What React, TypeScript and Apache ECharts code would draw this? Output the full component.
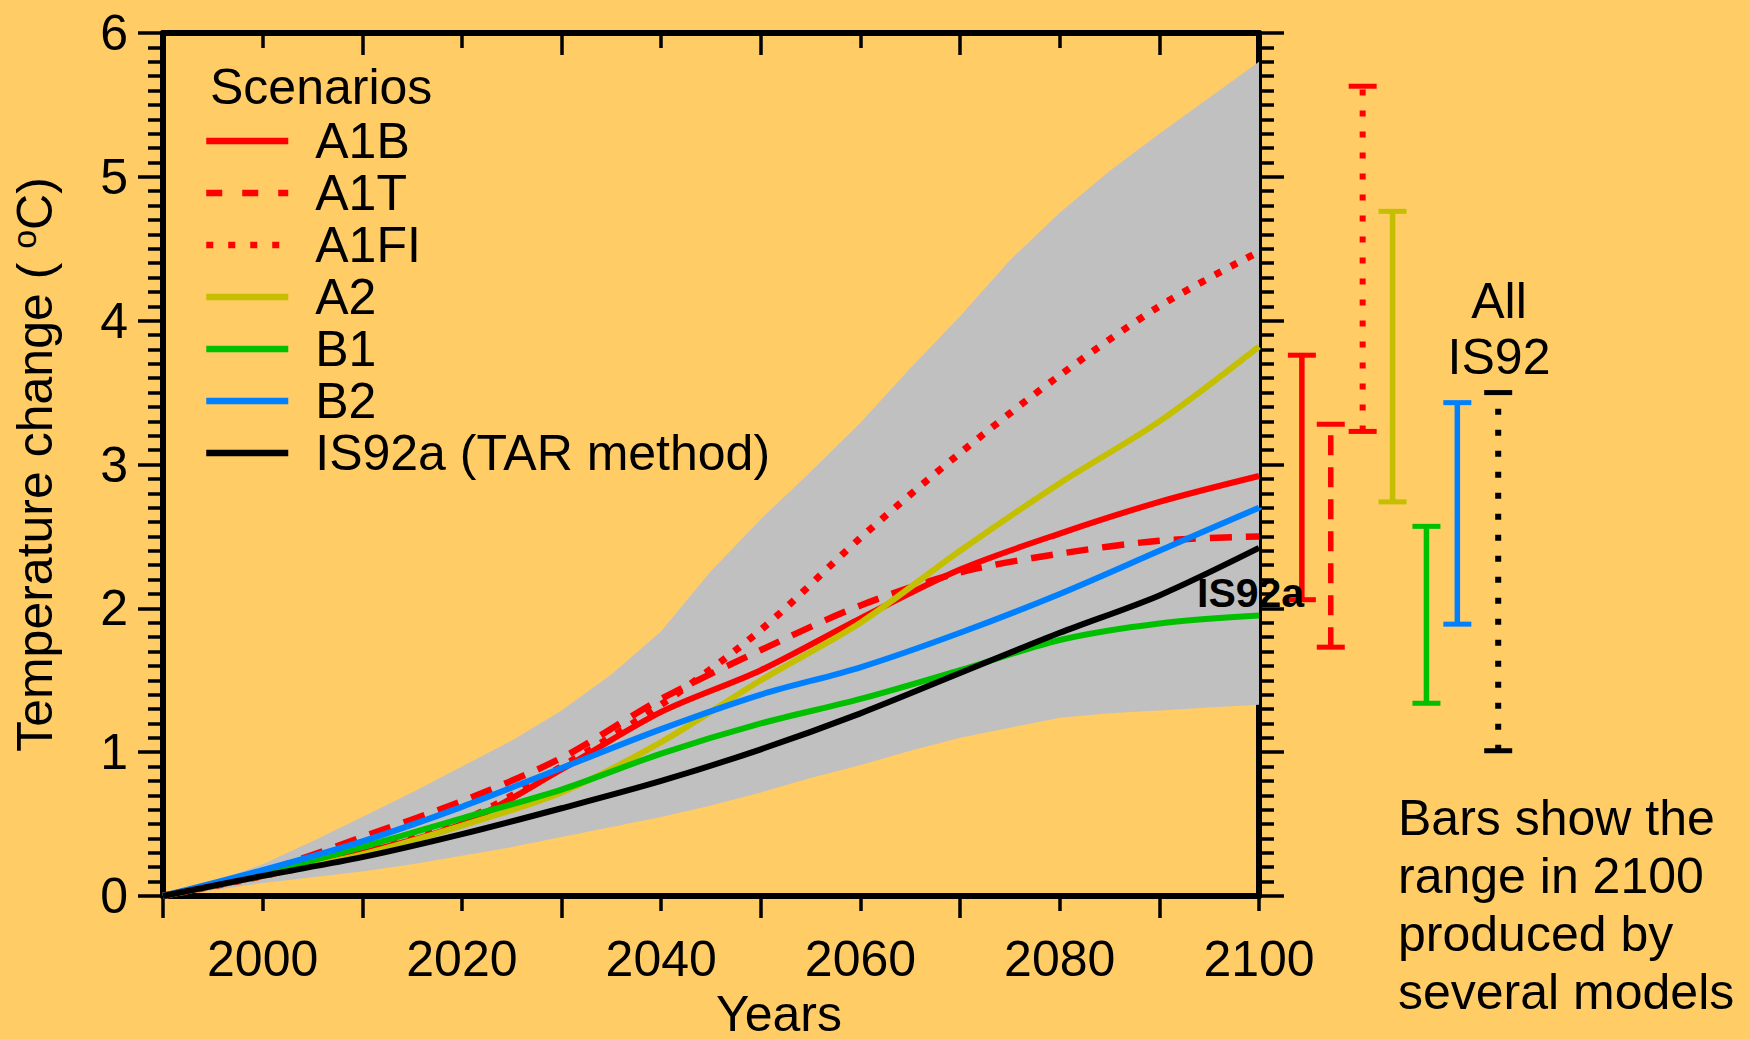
import React, { useEffect, useRef } from 'react';
import * as echarts from 'echarts';

const FONT = '"Liberation Sans", Arial, Helvetica, sans-serif';
const BG = '#ffcc66';

// ---- data ----
const years = [1990, 2000, 2010, 2020, 2030, 2040, 2050, 2060, 2070, 2080, 2090, 2100];
const A1B = [0, 0.14, 0.3, 0.5, 0.88, 1.28, 1.57, 1.93, 2.27, 2.52, 2.74, 2.92];
const A1T = [0, 0.17, 0.41, 0.66, 0.96, 1.37, 1.71, 2.02, 2.25, 2.38, 2.47, 2.5];
const A1FI = [0, 0.14, 0.3, 0.52, 0.9, 1.33, 1.85, 2.49, 3.08, 3.62, 4.1, 4.48];
const A2 = [0, 0.14, 0.29, 0.49, 0.72, 1.07, 1.5, 1.9, 2.4, 2.87, 3.3, 3.82];
const B1 = [0, 0.16, 0.34, 0.54, 0.74, 0.99, 1.2, 1.37, 1.57, 1.78, 1.895, 1.95];
const B2 = [0, 0.18, 0.38, 0.62, 0.89, 1.16, 1.4, 1.59, 1.83, 2.1, 2.4, 2.7];
const IS92a = [0, 0.14, 0.27, 0.43, 0.61, 0.8, 1.02, 1.27, 1.55, 1.83, 2.09, 2.42];

const envYears = [1990, 1995, 2000, 2005, 2010, 2015, 2020, 2025, 2030, 2035, 2040, 2045, 2050, 2055, 2060, 2065, 2070, 2075, 2080, 2085, 2090, 2095, 2100];
const envUpper = [0, 0.1, 0.22, 0.38, 0.55, 0.72, 0.9, 1.08, 1.29, 1.54, 1.84, 2.26, 2.62, 2.95, 3.29, 3.67, 4.03, 4.42, 4.75, 5.04, 5.3, 5.55, 5.8];
const envLower = [0, 0.04, 0.09, 0.13, 0.17, 0.22, 0.28, 0.34, 0.41, 0.48, 0.55, 0.63, 0.72, 0.82, 0.91, 1.01, 1.1, 1.17, 1.24, 1.27, 1.29, 1.31, 1.33];

// range bars for 2100 (placed to the right of the plot, in "year" units of a side axis)
const barNames = ['A1B', 'A1T', 'A1FI', 'A2', 'B1', 'B2', 'All IS92'];
const barPos = [2104.3, 2107.2, 2110.4, 2113.4, 2116.8, 2119.9, 2124.0];
const barLow = [2.06, 1.73, 3.23, 2.74, 1.34, 1.89, 1.01];
const barHigh = [3.76, 3.28, 5.63, 4.76, 2.57, 3.43, 3.5];

const xLabelValues = [2000, 2020, 2040, 2060, 2080, 2100];
const xEvenTicks = [2000, 2020, 2040, 2060, 2080, 2100];
const xOddTicks = [1990, 2010, 2030, 2050, 2070, 2090];
const xTopEven = [2000, 2020, 2040, 2060, 2080];

const RED = '#ff0000';
const OLIVE = '#c4bf00';
const GREEN = '#00c000';
const BLUE = '#0080ff';
const BLACK = '#000000';

const scenarios = [
  { name: 'A1B', values: A1B, color: RED, type: 'solid' as any, legendType: 'solid' as any, width: 6 },
  { name: 'A1T', values: A1T, color: RED, type: [22, 14] as any, legendType: [16, 20] as any, width: 6.5 },
  { name: 'A1FI', values: A1FI, color: RED, type: [7, 11] as any, legendType: [7, 15] as any, width: 7 },
  { name: 'A2', values: A2, color: OLIVE, type: 'solid' as any, legendType: 'solid' as any, width: 6 },
  { name: 'B1', values: B1, color: GREEN, type: 'solid' as any, legendType: 'solid' as any, width: 6 },
  { name: 'B2', values: B2, color: BLUE, type: 'solid' as any, legendType: 'solid' as any, width: 6 },
  { name: 'IS92a (TAR method)', values: IS92a, color: BLACK, type: 'solid' as any, legendType: 'solid' as any, width: 6 },
];

const barStyles = [
  { color: RED, dash: null as any, width: 5.5 },
  { color: RED, dash: [20, 12], width: 5.5 },
  { color: RED, dash: [6, 15], width: 6 },
  { color: OLIVE, dash: null as any, width: 5.5 },
  { color: GREEN, dash: null as any, width: 5.5 },
  { color: BLUE, dash: null as any, width: 5.5 },
  { color: BLACK, dash: [6, 15], width: 6 },
];

function buildOption(): any {
  const axisLineStyle = { color: BLACK, width: 6 };
  const tickLine = { color: BLACK, width: 3.5 };
  const gridTop = 33;
  const gridH = 863;

  const series: any[] = [
    {
      name: 'envelope',
      type: 'custom',
      xAxisIndex: 0,
      yAxisIndex: 0,
      data: envYears.map((y, i) => [y, envLower[i], envUpper[i]]),
      encode: { x: 0, y: [1, 2] },
      silent: true,
      z: 1,
      renderItem: (params: any, api: any) => {
        if (params.dataIndex !== 0) return null;
        const pts: number[][] = [];
        for (let k = 0; k < envYears.length; k++) pts.push(api.coord([envYears[k], envUpper[k]]));
        for (let k = envYears.length - 1; k >= 0; k--) pts.push(api.coord([envYears[k], envLower[k]]));
        return { type: 'polygon', shape: { points: pts }, style: { fill: '#c0c0c0', stroke: 'none' } };
      },
    },
  ];

  scenarios.forEach((s) => {
    series.push({
      name: s.name,
      type: 'line',
      xAxisIndex: 0,
      yAxisIndex: 0,
      data: years.map((y, i) => [y, s.values[i]]),
      symbol: 'none',
      showSymbol: false,
      smooth: 0.3,
      color: s.color,
      lineStyle: { color: s.color, width: s.width, type: s.type, cap: 'butt' },
      z: 3,
    });
  });

  series.push({
    name: 'ranges',
    type: 'custom',
    xAxisIndex: 4,
    yAxisIndex: 2,
    data: barNames.map((n, i) => [barPos[i], barLow[i], barHigh[i]]),
    encode: { x: 0, y: [1, 2] },
    clip: false,
    renderItem: (params: any, api: any) => {
      const i = params.dataIndex;
      const st = barStyles[i];
      const x = api.value(0);
      const lo = api.coord([x, api.value(1)]);
      const hi = api.coord([x, api.value(2)]);
      const half = 14;
      return {
        type: 'group',
        children: [
          {
            type: 'line',
            shape: { x1: lo[0], y1: lo[1], x2: hi[0], y2: hi[1] },
            style: { stroke: st.color, lineWidth: st.width, lineDash: st.dash, lineCap: 'butt' },
          },
          {
            type: 'line',
            shape: { x1: hi[0] - half, y1: hi[1], x2: hi[0] + half, y2: hi[1] },
            style: { stroke: st.color, lineWidth: 5 },
          },
          {
            type: 'line',
            shape: { x1: lo[0] - half, y1: lo[1], x2: lo[0] + half, y2: lo[1] },
            style: { stroke: st.color, lineWidth: 5 },
          },
        ],
      };
    },
    z: 3,
  });

  return {
    animation: false,
    backgroundColor: BG,
    textStyle: { fontFamily: FONT, color: BLACK },
    grid: [
      { left: 163, top: gridTop, width: 1096, height: gridH, containLabel: false, outerBoundsMode: 'none' },
      { left: 1259, top: gridTop, width: 299, height: gridH, containLabel: false, outerBoundsMode: 'none' },
    ],
    legend: {
      data: scenarios.map((s) => ({
        name: s.name,
        itemStyle: { opacity: 0 },
        lineStyle: { color: s.color, width: 6.5, type: s.legendType, cap: 'butt' },
      })),
      orient: 'vertical',
      left: 203,
      top: 115,
      padding: 0,
      itemGap: 0,
      itemWidth: 82,
      itemHeight: 14,
      selectedMode: false,
      itemStyle: { opacity: 0 },
      textStyle: { fontSize: 50, lineHeight: 52, color: BLACK, fontFamily: FONT, padding: [0, 0, 0, 22] },
    },
    xAxis: [
      {
        type: 'value',
        gridIndex: 0,
        position: 'bottom',
        min: 1990,
        max: 2100,
        interval: 10,
        axisLine: { show: true, onZero: false, lineStyle: axisLineStyle },
        axisTick: { show: true, length: 15, lineStyle: tickLine, customValues: xEvenTicks },
        axisLabel: {
          show: true,
          customValues: xLabelValues,
          formatter: (v: number) => String(v),
          fontSize: 50,
          color: BLACK,
          fontFamily: FONT,
          margin: 38,
        },
        splitLine: { show: false },
        name: 'Years',
        nameLocation: 'middle',
        nameGap: 85,
        nameTextStyle: { fontSize: 50, lineHeight: 48, color: BLACK, fontFamily: FONT, padding: [0, 0, 0, 136] },
      },
      {
        type: 'value',
        gridIndex: 0,
        position: 'bottom',
        min: 1990,
        max: 2100,
        interval: 10,
        axisLine: { show: false, onZero: false },
        axisTick: { show: true, length: 22, lineStyle: tickLine, customValues: xOddTicks },
        axisLabel: { show: false },
        splitLine: { show: false },
      },
      {
        type: 'value',
        gridIndex: 0,
        position: 'top',
        min: 1990,
        max: 2100,
        interval: 10,
        axisLine: { show: true, onZero: false, lineStyle: axisLineStyle },
        axisTick: { show: true, inside: true, length: 15, lineStyle: tickLine, customValues: xTopEven },
        axisLabel: { show: false },
        splitLine: { show: false },
      },
      {
        type: 'value',
        gridIndex: 0,
        position: 'top',
        min: 1990,
        max: 2100,
        interval: 10,
        axisLine: { show: false, onZero: false },
        axisTick: { show: true, inside: true, length: 22, lineStyle: tickLine, customValues: xOddTicks.slice(1) },
        axisLabel: { show: false },
        splitLine: { show: false },
      },
      {
        type: 'value',
        gridIndex: 1,
        min: 2100,
        max: 2130,
        show: false,
      },
    ],
    yAxis: [
      {
        type: 'value',
        gridIndex: 0,
        position: 'left',
        min: 0,
        max: 6,
        interval: 1,
        axisLine: { show: true, onZero: false, lineStyle: axisLineStyle },
        axisTick: { show: true, length: 25, lineStyle: tickLine },
        minorTick: { show: true, splitNumber: 10, length: 15, lineStyle: tickLine },
        axisLabel: { show: true, fontSize: 50, color: BLACK, fontFamily: FONT, margin: 35 },
        splitLine: { show: false },
        minorSplitLine: { show: false },
        name: 'Temperature change ( {s|o}C)',
        nameLocation: 'middle',
        nameGap: 100,
        nameTextStyle: {
          fontSize: 50,
          color: BLACK,
          fontFamily: FONT,
          rich: { s: { fontSize: 34, fontFamily: FONT, color: BLACK, padding: [0, 0, 22, 0] } },
        },
      },
      {
        type: 'value',
        gridIndex: 0,
        position: 'right',
        min: 0,
        max: 6,
        interval: 1,
        axisLine: { show: true, onZero: false, lineStyle: axisLineStyle },
        axisTick: { show: true, length: 25, lineStyle: tickLine },
        minorTick: { show: true, splitNumber: 10, length: 15, lineStyle: tickLine },
        axisLabel: { show: false },
        splitLine: { show: false },
        minorSplitLine: { show: false },
      },
      {
        type: 'value',
        gridIndex: 1,
        min: 0,
        max: 6,
        show: false,
      },
    ],
    graphic: [
      {
        type: 'text',
        x: 210,
        y: 87,
        z: 100,
        style: { text: 'Scenarios', fontSize: 50, fontFamily: FONT, fill: BLACK, align: 'left', verticalAlign: 'middle' },
      },
      {
        type: 'text',
        x: 1197,
        y: 593,
        z: 100,
        style: { text: 'IS92a', fontSize: 41, fontWeight: 'bold', fontFamily: FONT, fill: BLACK, align: 'left', verticalAlign: 'middle' },
      },
      {
        type: 'text',
        x: 1499,
        y: 329,
        z: 100,
        style: { text: 'All\nIS92', fontSize: 50, lineHeight: 56, fontFamily: FONT, fill: BLACK, align: 'center', verticalAlign: 'middle' },
      },
      {
        type: 'text',
        x: 1398,
        y: 905,
        z: 100,
        style: {
          text: 'Bars show the\nrange in 2100\nproduced by\nseveral models',
          fontSize: 50,
          lineHeight: 58,
          fontFamily: FONT,
          fill: BLACK,
          align: 'left',
          verticalAlign: 'middle',
        },
      },
    ],
    series,
  };
}

export default function App() {
  const ref = useRef<HTMLDivElement>(null);
  useEffect(() => {
    document.body.style.margin = '0';
    const chart = echarts.init(ref.current as HTMLDivElement, null, { renderer: 'svg' });
    chart.setOption(buildOption());
    return () => {
      chart.dispose();
    };
  }, []);
  return (
    <div
      ref={ref}
      style={{ position: 'absolute', left: 0, top: 0, width: 1750, height: 1039, background: BG }}
    />
  );
}
